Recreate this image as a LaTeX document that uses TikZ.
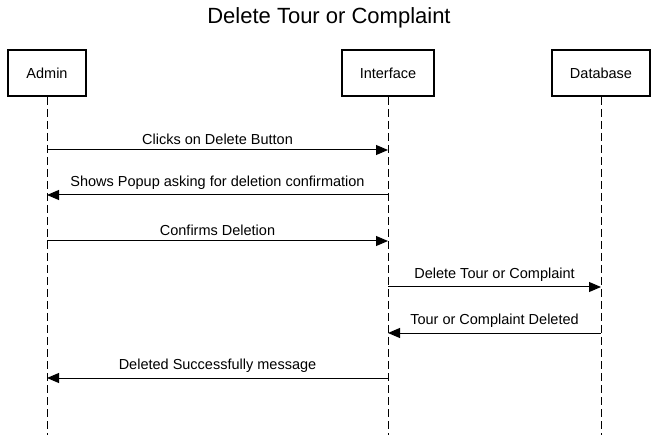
\documentclass[tikz,border=0pt]{standalone}
\usepackage{fontspec}
\setmainfont{Liberation Sans}
\usetikzlibrary{arrows.meta, positioning}

\begin{document}
\begin{tikzpicture}[
    x=1pt, y=-1pt,
    actor/.style={
        draw=black,
        fill=white,
        line width=2pt,
        minimum width=78pt,
        minimum height=46pt,
        inner sep=0pt,
        font=\fontsize{14.5}{17}\selectfont
    },
    lifeline/.style={
        draw=black,
        line width=1pt,
        dash pattern=on 8pt off 4pt
    },
    msg/.style={
        -{Triangle[length=12pt, width=10pt]},
        line width=1pt,
        draw=black
    },
    lbl/.style={
        above=5pt,
        inner sep=0pt,
        font=\fontsize{14.5}{17}\selectfont
    }
]
\useasboundingbox (0,0) rectangle (658,435);

% Title
\node (title) at (329,18) {\fontsize{22}{26}\selectfont Delete Tour or Complaint};

% Nodes
\node (admin) [actor] at (47,73) {Admin};
\node (iface) [actor, minimum width=92pt] at (388,73) {Interface};
\node (db) [actor, minimum width=98pt] at (601,73) {Database};

% Lifelines
\coordinate (adminEnd) at (47,435);
\coordinate (ifaceEnd) at (388,435);
\coordinate (dbEnd) at (601,435);
\draw [lifeline] (admin.south) -- (adminEnd);
\draw [lifeline] (iface.south) -- (ifaceEnd);
\draw [lifeline] (db.south) -- (dbEnd);

% Rows
\coordinate (r1) at (0,150);
\coordinate (r2) at (0,195);
\coordinate (r3) at (0,241);
\coordinate (r4) at (0,287);
\coordinate (r5) at (0,333);
\coordinate (r6) at (0,378);

% Paths
\draw [msg] (admin |- r1) -- node[lbl] {Clicks on Delete Button} (iface |- r1);
\draw [msg] (iface |- r2) -- node[lbl] {Shows Popup asking for deletion confirmation} (admin |- r2);
\draw [msg] (admin |- r3) -- node[lbl] {Confirms Deletion} (iface |- r3);
\draw [msg] (iface |- r4) -- node[lbl] {Delete Tour or Complaint} (db |- r4);
\draw [msg] (db |- r5) -- node[lbl] {Tour or Complaint Deleted} (iface |- r5);
\draw [msg] (iface |- r6) -- node[lbl] {Deleted Successfully message} (admin |- r6);

\end{tikzpicture}
\end{document}
